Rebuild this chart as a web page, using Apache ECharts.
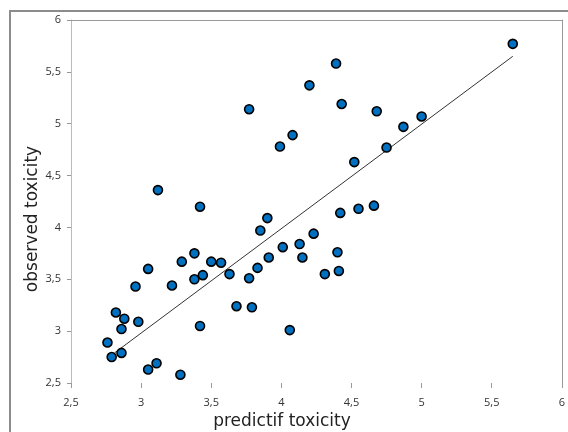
<!DOCTYPE html>
<html>
<head>
<meta charset="utf-8">
<script src="https://cdn.jsdelivr.net/npm/echarts@6/dist/echarts.min.js"></script>
<style>
  html, body { margin: 0; padding: 0; background: #fff; }
  #chart { width: 568px; height: 432px; }
</style>
</head>
<body>
<div id="chart"></div>
<script>
// predicted vs observed toxicity
const predicted = [3.77, 3.99, 4.08, 3.12, 3.42, 3.90, 5.65, 4.39, 4.20, 4.43, 4.68, 5.00, 4.87, 4.75,
  4.52, 4.42, 4.55, 4.66, 3.85, 3.91, 4.01, 4.13, 3.38, 3.29, 3.50, 3.57, 3.05, 3.38, 3.44, 3.63,
  3.77, 3.83, 2.96, 3.22, 2.82, 2.88, 2.98, 2.86, 3.68, 3.79, 3.42, 4.06, 2.76, 2.79, 2.86, 3.05,
  3.11, 3.28, 4.23, 4.15, 4.40, 4.41, 4.31];
const observed = [5.14, 4.78, 4.89, 4.36, 4.20, 4.09, 5.77, 5.58, 5.37, 5.19, 5.12, 5.07, 4.97, 4.77,
  4.63, 4.14, 4.18, 4.21, 3.97, 3.71, 3.81, 3.84, 3.75, 3.67, 3.67, 3.66, 3.60, 3.50, 3.54, 3.55,
  3.51, 3.61, 3.43, 3.44, 3.18, 3.12, 3.09, 3.02, 3.24, 3.23, 3.05, 3.01, 2.89, 2.75, 2.79, 2.63,
  2.69, 2.58, 3.94, 3.71, 3.76, 3.58, 3.55];

// trend line end points
const trendX = [2.81, 5.65];
const trendY = [2.79, 5.65];

const tickMin = 2.5;
const tickMax = 6;
const tickStep = 0.5;

const fmt = v => String(v).replace('.', ',');

const chart = echarts.init(document.getElementById('chart'));
chart.setOption({
  animation: false,
  textStyle: { fontFamily: 'Open Sans' },
  grid: { left: 71, top: 20, right: 5, bottom: 49 },
  graphic: [
    {
      type: 'rect',
      shape: { x: 10, y: 11, width: 600, height: 500 },
      style: { fill: 'none', stroke: '#8c8c8c', lineWidth: 2 },
      silent: true
    },
    {
      type: 'text',
      x: 33, y: 219,
      rotation: Math.PI / 2,
      style: {
        text: 'observed toxicity', font: '17px "DejaVu Sans"', fill: '#222',
        align: 'center', verticalAlign: 'middle'
      }
    },
    {
      type: 'text',
      x: 282, y: 422,
      style: {
        text: 'predictif toxicity', font: '17px "DejaVu Sans"', fill: '#222',
        align: 'center', verticalAlign: 'middle'
      }
    }
  ],
  xAxis: [
    {
      type: 'value', min: tickMin, max: tickMax, interval: tickStep,
      axisLine: { show: false },
      axisTick: { show: true, length: 5, lineStyle: { color: '#999' } },
      axisLabel: { formatter: fmt, fontSize: 11, color: '#333', margin: 14 },
      splitLine: { show: false }
    },
    {
      type: 'value', position: 'top', min: tickMin, max: tickMax,
      axisLine: { show: true, lineStyle: { color: '#999' } },
      axisTick: { show: false }, axisLabel: { show: false }, splitLine: { show: false }
    }
  ],
  yAxis: [
    {
      type: 'value', min: tickMin, max: tickMax, interval: tickStep,
      axisLine: { show: true, lineStyle: { color: '#bbb' } },
      axisTick: { show: true, length: 4, lineStyle: { color: '#999' } },
      axisLabel: { formatter: fmt, fontSize: 11, color: '#333', margin: 10 },
      splitLine: { show: false }
    },
    {
      type: 'value', position: 'right', min: tickMin, max: tickMax,
      axisLine: { show: true, lineStyle: { color: '#999' } },
      axisTick: { show: false }, axisLabel: { show: false }, splitLine: { show: false }
    }
  ],
  series: [
    {
      type: 'line',
      data: trendX.map((x, i) => [x, trendY[i]]),
      symbol: 'none',
      lineStyle: { color: '#333', width: 1 },
      z: 1
    },
    {
      type: 'scatter',
      data: predicted.map((x, i) => [x, observed[i]]),
      symbol: 'circle',
      symbolSize: 9,
      itemStyle: { color: '#0070c0', borderColor: '#000', borderWidth: 1.6, opacity: 1 },
      z: 3
    }
  ]
});
</script>
</body>
</html>
